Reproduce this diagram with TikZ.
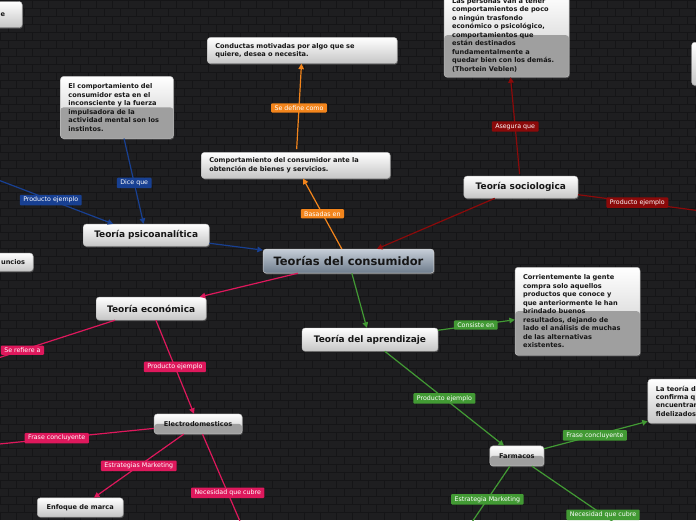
\documentclass[tikz,border=0pt]{standalone}
\usepackage{fontspec}
\setmainfont{DejaVu Sans}
\usepackage{xcolor}
\usepackage{tikz}
\usetikzlibrary{arrows.meta, shadows, calc}

\definecolor{bgc}{RGB}{30,30,32}
\definecolor{brickc}{RGB}{21,21,23}
\definecolor{cOr}{RGB}{243,133,28}
\definecolor{cRd}{RGB}{139,10,10}
\definecolor{cBl}{RGB}{24,64,146}
\definecolor{cPk}{RGB}{222,24,92}
\definecolor{cGr}{RGB}{66,154,52}
\definecolor{ink}{RGB}{22,22,22}
\definecolor{centTop}{RGB}{198,206,216}
\definecolor{centBot}{RGB}{110,124,140}

\newcommand\boxfont{\fontsize{6.6}{8.5}\selectfont\bfseries}
\newcommand\titlefont{\fontsize{9}{11}\selectfont\bfseries}
\newcommand\centfont{\fontsize{11.5}{13}\selectfont\bfseries}
\newcommand\lblfont{\fontsize{6.3}{7}\selectfont}

\begin{document}
\begin{tikzpicture}[x=1pt, y=-1pt,
    brick/.style={draw=brickc, line width=0.6pt},
    topic/.style={rectangle, draw=gray!55, rounded corners=3pt, top color=white, bottom color=gray!45, text=ink,
        drop shadow={opacity=0.55, shadow xshift=0.8pt, shadow yshift=-1.2pt}, inner xsep=8pt, inner ysep=4pt, align=left},
    note/.style={topic, path picture={\fill[gray!75!white] (path picture bounding box.west) rectangle (path picture bounding box.south east);}},
    centre/.style={rectangle, draw=gray!35, rounded corners=3pt, top color=centTop, bottom color=centBot, text=ink,
        drop shadow={opacity=0.55, shadow xshift=0.8pt, shadow yshift=-1.2pt}, font=\centfont, minimum width=171pt, minimum height=24pt},
    lbl/.style={fill=#1, text=white, font=\lblfont, inner xsep=3.5pt, inner ysep=2.2pt, rounded corners=1pt},
    link/.style={draw=#1, line width=1.2pt, -{Triangle[length=5.5pt,width=5.5pt]}}
]
% Background
\fill[bgc] (0,0) rectangle (696,520);
\foreach \r in {0,...,64}{
  \draw[brick] (0,\r*8) -- (696,\r*8);
  \pgfmathtruncatemacro\off{mod(\r,2)*8}
  \foreach \c in {0,16,...,688}
    \draw[brick] (\c+\off,\r*8) -- (\c+\off,\r*8+8);
}
\useasboundingbox (0,0) rectangle (696,520);

% Central topic
\node[centre] (cent) at (348.5,261) {Teorías del consumidor};

% Theories
\node[topic, font=\titlefont, minimum width=114pt, minimum height=22pt] (socio) at (521,187) {Teoría sociologica};
\node[topic, font=\titlefont, minimum width=126pt, minimum height=22pt] (psico) at (146,235) {Teoría psicoanalítica};
\node[topic, font=\titlefont, minimum width=110pt, minimum height=23pt] (econ) at (151,308.5) {Teoría económica};
\node[topic, font=\titlefont, minimum width=136pt, minimum height=23pt] (apren) at (370,339.5) {Teoría del aprendizaje};

% Notes
\node[topic, font=\boxfont, anchor=north west, text width=174pt, minimum height=26pt] (conduct) at (207,37)
    {Conductas motivadas por algo que se\\quiere, desea o necesita.};
\node[topic, font=\boxfont, anchor=north west, text width=173pt, minimum height=26pt] (comp) at (201,152)
    {Comportamiento del consumidor ante la\\obtención de bienes y servicios.};
\node[note, font=\boxfont, anchor=north west, text width=97pt, minimum height=62pt] (instint) at (60,76)
    {El comportamiento del\\consumidor esta en el\\inconsciente y la fuerza\\impulsadora de la\\actividad mental son los\\instintos.};
\node[note, font=\boxfont, anchor=south west, text width=109pt, inner ysep=5pt] (veblen) at (444,77)
    {Las personas van a tener\\comportamientos de poco\\o ningún trasfondo\\económico o psicológico,\\comportamientos que\\están destinados\\fundamentalmente a\\quedar bien con los demás.\\(Thortein Veblen)};
\node[note, font=\boxfont, anchor=north west, text width=109pt, minimum height=88pt] (corr) at (515,267)
    {Corrientemente la gente\\compra solo aquellos\\productos que conoce y\\que anteriormente le han\\brindado buenos\\resultados, dejando de\\lado el análisis de muchas\\de las alternativas\\existentes.};
\node[topic, font=\boxfont, anchor=north west, text width=74pt, minimum height=44pt] (lateo) at (648,379)
    {La teoría d\\confirma q\\encuentran\\fidelizados};

% Examples
\node[note, font=\boxfont, minimum width=88pt, minimum height=20pt] (elec) at (198,424) {Electrodomesticos};
\node[topic, font=\boxfont, minimum width=86pt, minimum height=19pt] (enfo) at (80,507.5) {Enfoque de marca};
\node[note, font=\boxfont, minimum width=54pt, minimum height=20pt] (farm) at (517,456) {Farmacos};

% Cut-off nodes at the edges
\node[topic, font=\boxfont, anchor=north east, minimum height=26pt] (topl) at (22,1) {e\hspace*{9pt}};
\node[topic, font=\boxfont, anchor=east, minimum height=18pt] (anun) at (33,262) {uncios};
\node[topic, minimum width=30pt, minimum height=43pt] (tr) at (707,63.5) {};

\coordinate (psL) at (-20,173);
\coordinate (socR) at (710,212);
\coordinate (ecL) at (-30,367);
\coordinate (elL) at (-20,446);
\coordinate (elB) at (250,545);
\coordinate (faB) at (460,540);
\coordinate (faR) at (640,540);

% Orange links
\draw[link=cOr] (cent) -- node[lbl=cOr]{Basadas en} (comp);
\draw[link=cOr, shorten <=3pt] (comp) -- node[lbl=cOr]{Se define como} (conduct);

% Red links
\draw[link=cRd] (socio) -- (cent);
\draw[link=cRd, shorten <=2pt] (socio) -- node[lbl=cRd]{Asegura que} (veblen);
\draw[link=cRd] (socio) -- node[lbl=cRd, pos=0.45]{Producto ejemplo} (socR);

% Blue links
\draw[link=cBl] (psico) -- (cent);
\draw[link=cBl] (instint) -- node[lbl=cBl, pos=0.52]{Dice que} (psico);
\draw[link=cBl] (psL) -- node[lbl=cBl, pos=0.53]{Producto ejemplo} ([xshift=-33pt]psico.north);

% Pink links
\draw[link=cPk] (cent) -- (econ);
\draw[link=cPk] (econ) -- node[lbl=cPk, pos=0.64]{Se refiere a} (ecL);
\draw[link=cPk] (econ) -- node[lbl=cPk]{Producto ejemplo} (elec);
\draw[link=cPk] (elec) -- node[lbl=cPk, pos=0.56]{Frase concluyente} (elL);
\draw[link=cPk] (elec) -- node[lbl=cPk]{Estrategias Marketing} (enfo);
\draw[link=cPk] (elec) -- node[lbl=cPk, pos=0.53]{Necesidad que cubre} (elB);

% Green links
\draw[link=cGr] (cent) -- (apren);
\draw[link=cGr] (apren) -- node[lbl=cGr, pos=0.49]{Consiste en} (corr);
\draw[link=cGr] (apren) -- node[lbl=cGr]{Producto ejemplo} (farm);
\draw[link=cGr] (farm) -- node[lbl=cGr, pos=0.49]{Frase concluyente} ([yshift=2pt]lateo.south west);
\draw[link=cGr] (farm) -- node[lbl=cGr, pos=0.45]{Estrategia Marketing} (faB);
\draw[link=cGr] (farm) -- node[lbl=cGr, pos=0.66]{Necesidad que cubre} (faR);
\end{tikzpicture}
\end{document}
